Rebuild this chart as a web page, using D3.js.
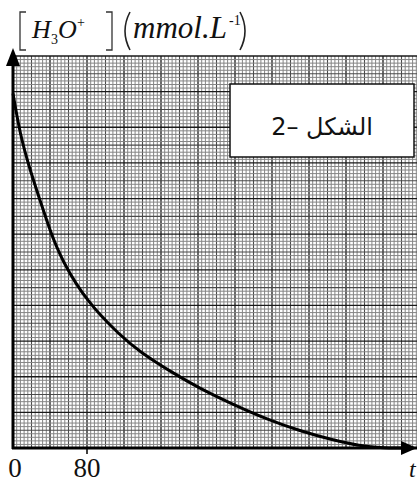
<!DOCTYPE html>
<html>
<head>
<meta charset="utf-8">
<script src="https://cdn.jsdelivr.net/npm/d3@7"></script>
<style>
  html, body { margin: 0; padding: 0; background: #fff; }
  svg { display: block; }
</style>
</head>
<body>
<div id="chart"></div>
<script>
// values (t in s, [H3O+] in grid units)
const times = [0, 7.6, 18.4, 29, 40, 53, 80, 116, 137, 173, 202, 238, 275, 310, 346, 375, 397, 440];
const conc  = [9.95, 8.8, 7.8, 6.97, 6.1, 5.25, 4.1, 3.15, 2.7, 2.1, 1.67, 1.22, 0.8, 0.48, 0.22, 0.06, 0, 0];
const xTickValues = [0, 80];
const xTickLabels = ["0", "80"];

const width = 417, height = 486;
const x = d3.scaleLinear().domain([0, 440]).range([13, 13 + 440 * 74 / 80]);
const y = d3.scaleLinear().domain([0, 11]).range([448, 56]);

const serif = "'Liberation Serif', 'Times New Roman', serif";

const svg = d3.select("#chart").append("svg")
    .attr("width", width)
    .attr("height", height)
    .attr("font-family", serif);

// millimetre paper
const grid = svg.append("g");
const xMinor = d3.range(0, 441, 4);
const yMinor = d3.range(0, 111).map(d => d / 10);

function gridStyle(i) {
    if (i % 10 === 0) return { c: "#1a1a1a", w: 1.3 };
    if (i % 5 === 0) return { c: "#4a4a4a", w: 1.1 };
    return { c: "#858585", w: 1 };
}

grid.selectAll("line.v").data(xMinor).join("line")
    .attr("class", "v")
    .attr("x1", d => x(d)).attr("x2", d => x(d))
    .attr("y1", y(11)).attr("y2", y(0))
    .attr("stroke", (d, i) => gridStyle(i).c)
    .attr("stroke-width", (d, i) => gridStyle(i).w);

grid.selectAll("line.h").data(yMinor).join("line")
    .attr("class", "h")
    .attr("x1", x(0)).attr("x2", width)
    .attr("y1", d => y(d)).attr("y2", d => y(d))
    .attr("stroke", (d, i) => gridStyle(i).c)
    .attr("stroke-width", (d, i) => gridStyle(i).w);

// legend box
svg.append("rect")
    .attr("x", 230).attr("y", 84)
    .attr("width", 184).attr("height", 73)
    .attr("fill", "#fff")
    .attr("stroke", "#111")
    .attr("stroke-width", 1.5);

svg.append("text")
    .attr("x", 322).attr("y", 135)
    .attr("text-anchor", "middle")
    .attr("font-family", "'DejaVu Sans', 'Noto Sans', sans-serif")
    .attr("font-size", 24)
    .attr("fill", "#111")
    .text("الشكل –2");

// curve
const line = d3.line()
    .x((d, i) => x(times[i]))
    .y(d => y(d))
    .curve(d3.curveBasis);

svg.append("path")
    .datum(conc)
    .attr("d", line)
    .attr("fill", "none")
    .attr("stroke", "#000")
    .attr("stroke-width", 3);

// axes with arrows
svg.append("line")
    .attr("x1", x(0)).attr("x2", x(0))
    .attr("y1", y(0) + 1).attr("y2", 60)
    .attr("stroke", "#000").attr("stroke-width", 3);
svg.append("path")
    .attr("d", `M${x(0)},48 L${x(0) - 7},66 L${x(0) + 7},66 Z`)
    .attr("fill", "#000");

svg.append("line")
    .attr("x1", x(0) - 1).attr("x2", 406)
    .attr("y1", y(0)).attr("y2", y(0))
    .attr("stroke", "#000").attr("stroke-width", 3);
svg.append("path")
    .attr("d", `M417,${y(0)} L401,${y(0) - 7} L401,${y(0) + 7} Z`)
    .attr("fill", "#000");

// x ticks
svg.selectAll("line.tick").data(xTickValues.slice(1)).join("line")
    .attr("class", "tick")
    .attr("x1", d => x(d)).attr("x2", d => x(d))
    .attr("y1", y(0)).attr("y2", y(0) + 6)
    .attr("stroke", "#000").attr("stroke-width", 1.5);

svg.selectAll("text.xlab").data(xTickValues).join("text")
    .attr("class", "xlab")
    .attr("x", (d, i) => i === 0 ? x(d) + 2 : x(d))
    .attr("y", 477)
    .attr("text-anchor", "middle")
    .attr("font-size", 27)
    .attr("fill", "#111")
    .text((d, i) => xTickLabels[i]);

svg.append("text")
    .attr("x", 409).attr("y", 477)
    .attr("font-size", 24)
    .attr("font-style", "italic")
    .attr("fill", "#111")
    .text("t");

// y-axis label: [H3O+](mmol.L-1)
const bracket = (x0, dir) => `M${x0 + dir * 6},12 L${x0},12 L${x0},50 L${x0 + dir * 6},50`;
svg.append("path").attr("d", bracket(20, 1)).attr("fill", "none").attr("stroke", "#333").attr("stroke-width", 1.3);
svg.append("path").attr("d", bracket(112, -1)).attr("fill", "none").attr("stroke", "#333").attr("stroke-width", 1.3);
const paren = (x0, dir) => `M${x0 + dir * 6},12 Q${x0 - dir * 4},31 ${x0 + dir * 6},50`;
svg.append("path").attr("d", paren(124, 1)).attr("fill", "none").attr("stroke", "#222").attr("stroke-width", 1.6);
svg.append("path").attr("d", paren(246, -1)).attr("fill", "none").attr("stroke", "#222").attr("stroke-width", 1.6);

const lab = svg.append("g").attr("fill", "#111").attr("font-family", serif);
lab.append("text").attr("x", 32).attr("y", 38).attr("font-size", 26).attr("font-style", "italic").text("H");
lab.append("text").attr("x", 51).attr("y", 44).attr("font-size", 14).text("3");
lab.append("text").attr("x", 58).attr("y", 38).attr("font-size", 26).attr("font-style", "italic").text("O");
lab.append("text").attr("x", 77).attr("y", 27).attr("font-size", 14).text("+");
lab.append("text").attr("x", 133).attr("y", 38).attr("font-size", 31).attr("font-style", "italic").text("mmol.L");
lab.append("text").attr("x", 229).attr("y", 25).attr("font-size", 14).text("-1");
</script>
</body>
</html>
